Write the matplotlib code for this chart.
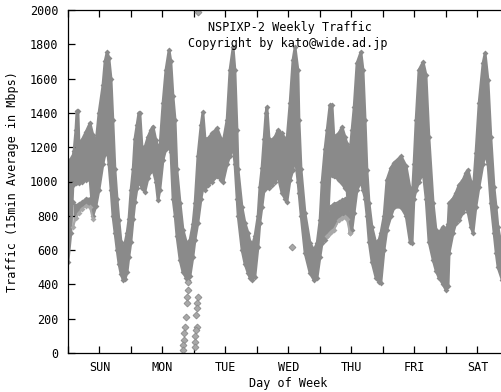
import matplotlib
matplotlib.use("Agg")
import matplotlib.pyplot as plt

# hours since Sunday 00:00, envelope of the 15min samples (Mbps)
hours = [
    0.0, 1.1, 1.9, 2.3, 3.0, 3.4, 3.8, 4.2, 5.3, 6.9, 8.4, 9.5, 10.7, 11.8, 13.3, 14.1, 14.9, 15.6, 16.4, 17.1, 17.9, 18.7, 19.4, 20.2, 21.0, 21.7, 22.5, 23.2,
    24.0, 24.8, 25.5, 26.3, 27.0, 27.4, 28.2, 29.3, 30.5, 31.6, 32.4, 33.5, 34.3, 35.0, 36.2, 37.3, 38.5, 39.2, 40.0, 40.8, 41.5, 42.7, 43.8, 45.0, 45.7, 46.5, 47.6,
    48.4, 49.5, 50.7, 51.4, 52.2, 53.3, 54.9, 56.8, 58.3, 59.1, 60.6, 61.7, 62.9, 63.6, 64.4, 64.8, 66.3, 67.4, 68.6, 69.3, 70.1, 71.2,
    72.4, 73.1, 73.9, 74.7, 75.4, 75.8, 76.6, 77.7, 78.9, 80.0, 81.5, 82.7, 83.4, 84.6, 85.7, 86.5, 87.6, 88.0, 88.8, 90.3, 92.2, 93.7, 94.9,
    96.0, 96.8, 97.9, 98.7, 99.8, 100.6, 101.3, 103.2, 104.4, 105.5, 106.3, 107.4, 108.2, 109.0, 110.1, 111.6, 112.4, 113.2, 113.9, 114.7, 115.8, 117.3, 118.5, 119.2,
    120.4, 121.5, 123.1, 124.2, 126.9, 128.8, 130.3, 131.1, 131.8, 132.6, 133.7, 135.3, 136.4, 137.5, 139.1, 140.2, 141.3, 142.9, 144.0, 144.8,
    145.2, 146.7, 147.8, 149.0, 150.5, 151.6, 152.4, 153.5, 154.3, 155.4, 156.6, 158.1, 158.9, 160.0, 161.1, 162.3, 163.1, 163.8, 165.4, 168.0,
]
upper = [
    1110, 1130, 1150, 1180, 1300, 1410, 1410, 1220, 1240, 1290, 1340, 1270, 1230, 1400, 1560, 1700, 1755, 1720, 1600, 1360, 1070, 900, 775, 650, 600, 640, 700, 780,
    950, 1070, 1250, 1330, 1400, 1400, 1200, 1200, 1260, 1300, 1320, 1240, 1200, 1200, 1460, 1650, 1767, 1700, 1500, 1360, 1070, 875, 720, 650, 620, 660, 750,
    875, 1150, 1330, 1405, 1250, 1250, 1280, 1310, 1250, 1230, 1360, 1650, 1784, 1650, 1300, 1070, 850, 760, 700, 650, 620, 680,
    800, 968, 1080, 1250, 1400, 1434, 1250, 1240, 1260, 1300, 1280, 1250, 1240, 1460, 1709, 1784, 1650, 1360, 1070, 816, 640, 600, 640,
    775, 1000, 1190, 1300, 1446, 1446, 1260, 1280, 1318, 1260, 1220, 1170, 1300, 1434, 1690, 1755, 1650, 1358, 1067, 875, 735, 640, 660, 700,
    800, 1009, 1080, 1108, 1147, 1090, 960, 900, 1100, 1358, 1650, 1697, 1620, 1260, 875, 717, 700, 735, 720, 750,
    875, 900, 933, 980, 1009, 1050, 1067, 1000, 933, 1166, 1458, 1690, 1749, 1592, 1260, 968, 850, 735, 600, 560,
]
lower = [
    530, 700, 980, 990, 990, 995, 1000, 990, 1000, 1010, 1010, 800, 860, 950, 1100, 1160, 1200, 1100, 950, 800, 700, 600, 520, 460, 426, 430, 470, 560,
    650, 780, 880, 960, 1000, 990, 960, 940, 1020, 1060, 1067, 1000, 890, 950, 1125, 1190, 1200, 1170, 900, 800, 680, 540, 470, 440, 426, 450, 560,
    660, 760, 900, 960, 950, 980, 1000, 1030, 1010, 1000, 1100, 1150, 1200, 1100, 900, 800, 600, 520, 466, 440, 426, 443,
    620, 760, 851, 950, 970, 970, 960, 980, 1000, 1030, 933, 900, 880, 1009, 1067, 1150, 1000, 933, 800, 583, 466, 426, 440,
    560, 640, 660, 680, 1040, 1040, 1030, 1010, 990, 960, 950, 700, 720, 816, 950, 1000, 950, 900, 800, 650, 530, 440, 414, 408,
    600, 720, 800, 850, 850, 800, 650, 641, 900, 950, 1000, 1050, 900, 650, 542, 480, 440, 400, 367, 390,
    583, 700, 760, 775, 820, 851, 820, 735, 700, 851, 968, 1100, 1166, 1100, 875, 700, 583, 500, 426, 420,
]
assert len(hours) == len(upper) == len(lower)

# weeks that ran below the main band on Sunday morning and Thursday
sun_strand_hours = [1.9, 3.0, 4.2, 5.3, 6.9, 8.4, 9.5]
sun_strand_top = [880, 860, 870, 880, 900, 900, 870]
sun_strand_bottom = [735, 790, 816, 840, 860, 850, 780]
thu_strand_hours = [98.7, 99.8, 100.6, 101.3, 103.2, 104.4, 105.5, 106.3, 107.4]
thu_strand_top = [800, 850, 860, 870, 880, 890, 900, 900, 850]
thu_strand_bottom = [680, 700, 710, 720, 775, 790, 792, 780, 700]

# stray samples (Monday night outage, spikes)
stray_hours = [45.8, 45.6, 45.2, 45.2, 45.0, 44.6, 44.3, 44.2, 43.9, 43.7,
               49.6, 49.2, 49.0, 48.8, 49.0, 48.6, 48.4, 48.4, 48.3, 49.5, 85.3]
stray_values = [414, 367, 327, 292, 210, 152, 117, 76, 47, 17,
                327, 292, 262, 222, 152, 134, 99, 64, 35, 1990, 618]

days = ["SUN", "MON", "TUE", "WED", "THU", "FRI", "SAT"]
yticks = list(range(0, 2001, 200))

GRAY = "#8a8a8a"
LIGHT = "#a8a8a8"
FONT = "DejaVu Sans Mono"

fig = plt.figure(figsize=(5.02, 3.92), dpi=100)
ax = fig.add_axes([68 / 502, 39 / 392, 441 / 502, 343 / 392])

ax.fill_between(hours, lower, upper, color=GRAY, linewidth=0)
ax.plot(hours, upper, color=GRAY, lw=2, marker="D", ms=3, mew=0)
ax.plot(hours, lower, color=GRAY, lw=2, marker="D", ms=3, mew=0)
for h, top, bot in [(sun_strand_hours, sun_strand_top, sun_strand_bottom),
                    (thu_strand_hours, thu_strand_top, thu_strand_bottom)]:
    ax.fill_between(h, bot, top, color=GRAY, linewidth=0)
    ax.plot(h, top, color=GRAY, lw=1.5, marker="D", ms=3, mew=0)
    ax.plot(h, bot, color=LIGHT, lw=1.5, marker="D", ms=3, mew=0)
ax.plot(stray_hours, stray_values, ls="none", marker="D", ms=3.5,
        color=LIGHT, mec=GRAY, mew=0.6)

ax.set_xlim(0, 168)
ax.set_ylim(0, 2000)
ax.set_xticks(range(0, 169, 12))
ax.set_xticklabels([days[i // 24] if i % 24 == 12 else "" for i in range(0, 169, 12)])
ax.set_yticks(yticks)
ax.set_yticklabels([str(v) for v in yticks])
ax.tick_params(direction="in", length=5, width=0.9, top=True, right=True,
               labelsize=8.5, colors="black")
ax.tick_params(axis="x", pad=6)
ax.tick_params(axis="y", pad=7)
for lab in ax.get_xticklabels() + ax.get_yticklabels():
    lab.set_family(FONT)
for sp in ax.spines.values():
    sp.set_linewidth(0.9)

fig.text(290 / 502, 1 - 27 / 392, "NSPIXP-2 Weekly Traffic", ha="center", va="center",
         family=FONT, fontsize=8.5)
fig.text(288 / 502, 1 - 44 / 392, "Copyright by kato@wide.ad.jp", ha="center", va="center",
         family=FONT, fontsize=8.5)
fig.text(288 / 502, 1 - 383 / 392, "Day of Week", ha="center", va="center",
         family=FONT, fontsize=8.5)
fig.text(13 / 502, 1 - 182 / 392, "Traffic (15min Average in Mbps)", ha="center",
         va="center", rotation=90, family=FONT, fontsize=8.5)

fig.savefig("out.png", dpi=100)
